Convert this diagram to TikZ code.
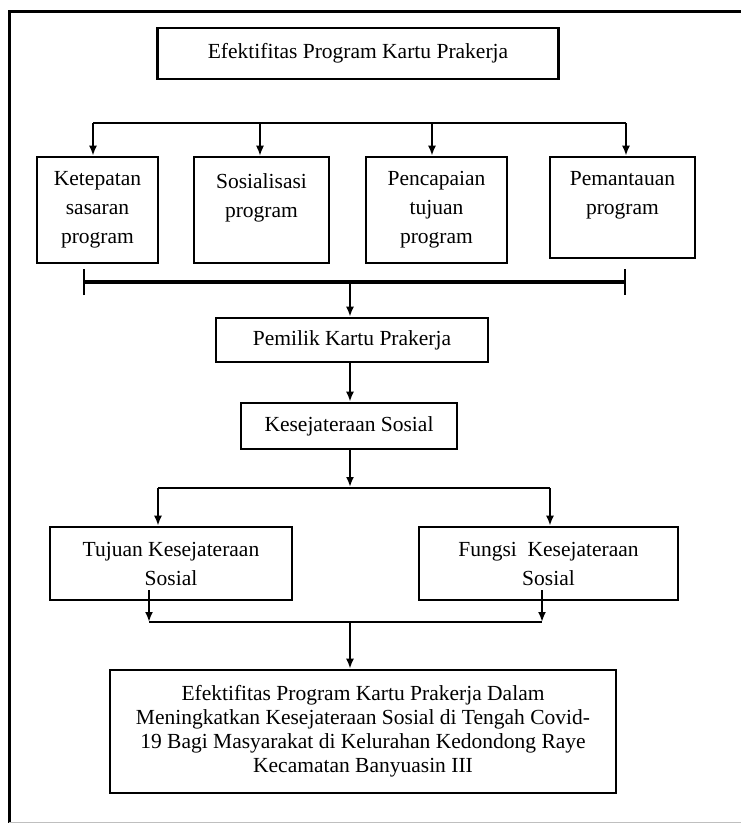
\documentclass[tikz,border=0pt]{standalone}
\usepackage{fontspec}
\setmainfont{Liberation Serif}
\usepackage{tikz}
\usetikzlibrary{arrows.meta, positioning}
\newcommand{\boxfont}{\fontsize{21.5}{29}\selectfont}
\newcommand{\resfont}{\fontsize{21.5}{24}\selectfont}
\tikzset{
  box/.style={draw, line width=2.6pt, align=center, font=\boxfont, inner sep=0pt},
  link/.style={line width=2pt, -{Latex[length=10pt, width=8pt]}},
  rail/.style={line width=2pt}
}

\begin{document}
\begin{tikzpicture}[x=1pt, y=-1pt]
    \useasboundingbox (0,0) rectangle (741,823);
    % --- frame ---
    \draw[line width=3pt] (9,823) -- (9,11) -- (741,11);
    \draw[black!25, line width=1pt] (9,822) -- (741,822);

    % --- top ---
    \node[box, minimum width=401, minimum height=51] (ttl) at (358,53.5)
          {Efektifitas Program Kartu Prakerja};

    % --- four aspects ---
    \node[box, minimum width=121, minimum height=106] (kts) at (97.5,210)
          {Ketepatan\\sasaran\\program};
    \node[box, minimum width=135, minimum height=106] (sos) at (261.5,210)
          {Sosialisasi\\program\\\mbox{}};
    \node[box, minimum width=141, minimum height=106] (pct) at (436.5,210)
          {Pencapaian\\tujuan\\program};
    \node[box, minimum width=145, minimum height=101] (pmt) at (622.5,207.5)
          {Pemantauan\\program\\\mbox{}};
    \coordinate (dA) at (93,123);
    \coordinate (dB) at (260,123);
    \coordinate (dC) at (432,123);
    \coordinate (dD) at (626,123);
    \draw[rail] (dA) -- (dD);
    \draw[link] (dA) -- (dA |- kts.north);
    \draw[link, line width=1.5pt] (dB) -- (dB |- sos.north);
    \draw[link] (dC) -- (dC |- pct.north);
    \draw[link] (dD) -- (dD |- pmt.north);

    % --- bracket ---
    \coordinate (cL) at (83,282);
    \coordinate (cM) at (350,282);
    \coordinate (cR) at (626,282);
    \draw[line width=3.5pt, {Bar[width=26pt, line width=2pt]}-{Bar[width=26pt, line width=2pt]}] (cL) -- (cR);

    % --- middle ---
    \node[box, minimum width=272, minimum height=44] (pml) at (352,340)
          {Pemilik Kartu Prakerja};
    \node[box, minimum width=216, minimum height=46] (ksj) at (349,426)
          {Kesejateraan Sosial};
    \draw[link] (cM) -- (cM |- pml.north);
    \draw[link] (cM |- pml.south) -- (cM |- ksj.north);

    % --- split ---
    \coordinate (sM) at (350,487);
    \coordinate (sL) at (158,488);
    \coordinate (sR) at (550,488);
    \draw[link] (cM |- ksj.south) -- (sM);
    \draw[rail] (sL) -- (sR);
    \node[box, minimum width=242, minimum height=73] (tjn) at (171,563.5)
          {Tujuan Kesejateraan\\Sosial};
    \node[box, minimum width=259, minimum height=73] (fng) at (548.5,563.5)
          {Fungsi~ Kesejateraan\\Sosial};
    \draw[link] (sL) -- (sL |- tjn.north);
    \draw[link] (sR) -- (sR |- fng.north);

    % --- merge ---
    \coordinate (tOut) at (149,590);
    \coordinate (fOut) at (542,590);
    \coordinate (mL) at (149,622);
    \coordinate (mM) at (350,622);
    \coordinate (mR) at (542,622);
    \draw[link] (tOut) -- (mL);
    \draw[link] (fOut) -- (mR);
    \draw[rail] (mL) -- (mR);

    % --- result ---
    \node[box, font=\resfont, minimum width=506, minimum height=123] (fin) at (363,731.5)
          {Efektifitas Program Kartu Prakerja Dalam\\
           Meningkatkan Kesejateraan Sosial di Tengah Covid-\\
           19 Bagi Masyarakat di Kelurahan Kedondong Raye\\
           Kecamatan Banyuasin III};
    \draw[link] (mM) -- (mM |- fin.north);
\end{tikzpicture}
\end{document}
